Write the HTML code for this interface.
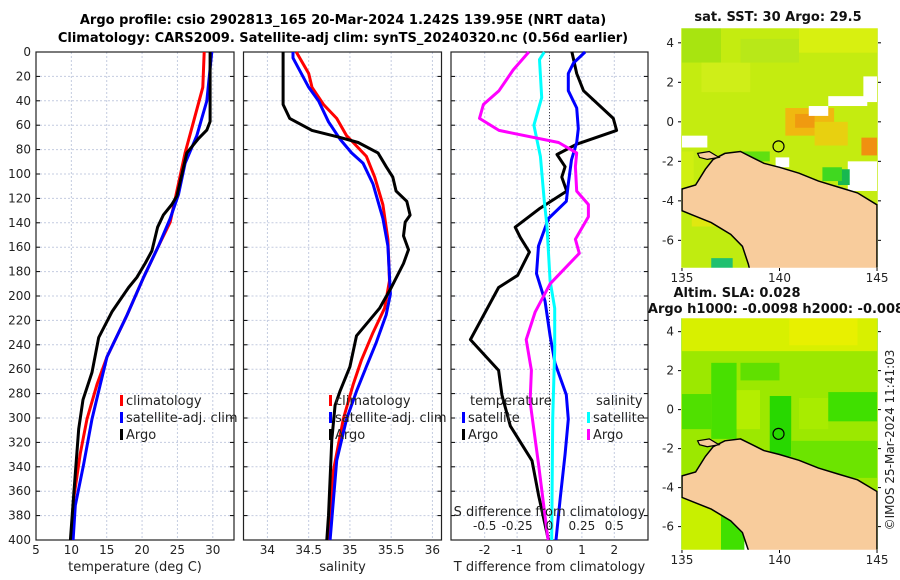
<!DOCTYPE html>
<html><head><meta charset="utf-8"><style>
html,body{margin:0;padding:0;background:#fff;}
svg{display:block;font-family:"DejaVu Sans","Liberation Sans",sans-serif;}
</style></head><body>
<svg id="fig" width="900" height="580" viewBox="0 0 900 580" xmlns="http://www.w3.org/2000/svg">
<text x="343" y="24" text-anchor="middle" font-size="13" font-weight="bold">Argo profile: csio 2902813_165 20-Mar-2024 1.242S 139.95E (NRT data)</text>
<text x="343" y="42" text-anchor="middle" font-size="13" font-weight="bold">Climatology: CARS2009. Satellite-adj clim: synTS_20240320.nc (0.56d earlier)</text>
<g id="charts"></g>
<g id="maps"></g>
<text transform="translate(894,440) rotate(-90)" text-anchor="middle" font-size="12" fill="#222">©IMOS 25-Mar-2024 11:41:03</text>
</svg>
<script>
// ---------- data ----------
const depthTicks = [0,20,40,60,80,100,120,140,160,180,200,220,240,260,280,300,320,340,360,380,400];
const tempTicks = [5,10,15,20,25,30];
const salTicks = [34,34.5,35,35.5,36];
const tdiffTicks = [-2,-1,0,1,2];
const sdiffTickLabels = ["-0.5","-0.25","0","0.25","0.5"];
const sdiffTicks = [-0.5,-0.25,0,0.25,0.5];

const tArgoDepth = [0,57,64,71,82.7,118,125,133.7,143.6,163,173,184.7,193,213,234,262.6,285,309,363,400];
const tArgo = [29.62,29.62,29.15,27.98,26.33,24.92,24.2,23.0,22.19,21.39,20.45,19.27,18.1,15.74,13.86,12.92,11.65,11.04,10.33,9.86];
const tClimDepth = [0,28.9,57.2,82.7,113.9,139.4,159,184.7,215.9,249.9,272.5,300.8,329,366,400];
const tClim = [28.78,28.59,27.27,26.09,24.92,23.98,22.33,20.21,17.86,15.04,13.62,12.21,11.27,10.33,9.95];
const tSatDepth = [0,40.2,68.6,91.2,116.7,136.5,159,184.7,215.9,249.9,272.5,300.8,337.7,371.7,400];
const tSat = [29.86,29.15,27.74,26.09,25.15,23.98,22.33,20.21,17.86,15.04,14.09,12.92,11.74,10.56,10.24];

const sArgoDepth = [0,43,54.4,64.3,70,74.2,82.7,94,102.5,114,122.4,133.7,139.4,150.7,162,173.4,193.2,210,232.6,258,278,289.5,317.8,380,400];
const sArgo = [34.19,34.19,34.27,34.54,34.88,35.1,35.34,35.44,35.52,35.56,35.69,35.73,35.67,35.65,35.71,35.65,35.5,35.36,35.08,35.0,34.88,34.82,34.78,34.74,34.72];
const sClimDepth = [0,17.6,28.9,43,54.4,68.6,74.2,85.6,102.5,125.2,153.5,187.5,210,230,252.4,272.5,300.8,343.3,400];
const sClim = [34.35,34.5,34.54,34.68,34.84,34.96,35.04,35.2,35.3,35.4,35.46,35.48,35.42,35.28,35.14,35.04,34.92,34.8,34.74];
const sSatDepth = [0,4.8,28.9,40.2,57.2,71.4,82.7,91.2,108.2,136.5,159,198.3,215.3,238,257.9,278,300.8,334.8,400];
const sSat = [34.31,34.31,34.5,34.62,34.74,34.88,35.02,35.16,35.28,35.4,35.46,35.49,35.44,35.32,35.2,35.08,34.96,34.84,34.76];

const dtArgoDepth = [0,17.6,31.7,54.4,64.3,75.6,84,94,102.5,114,128,143.6,152,164,183,193,235.7,261,281,306.5,335,363,397,400];
const dtArgo = [0.69,0.84,1.05,1.97,2.07,0.84,0.23,0.48,0.38,0.53,-0.29,-1.06,-0.9,-0.62,-0.98,-1.57,-2.44,-1.57,-1.47,-1.21,-0.54,-0.34,-0.06,-0.03];
const dtSatDepth = [0,9,17.6,31.7,45.9,62.9,74.2,88.4,108,122.4,136.5,159,181.6,204,232.6,255,281,301,329.5,366,400];
const dtSat = [1.1,0.74,0.58,0.58,0.84,0.89,0.84,0.68,0.58,0.52,-0.03,-0.34,-0.4,-0.14,0.02,0.17,0.52,0.58,0.48,0.33,0.2];
const dsArgoDepth = [0,14.7,31.7,43,54.4,64.3,74.2,82.7,94,114,125,135,153.5,165,190,213,235.7,261,286.6,337.7,397,400];
const dsArgo = [-0.16,-0.28,-0.39,-0.51,-0.54,-0.39,0.07,0.21,0.2,0.21,0.3,0.3,0.2,0.23,0.005,-0.11,-0.18,-0.14,-0.15,-0.085,-0.015,-0.01];
const dsSatDepth = [0,6.2,37.4,60,85.6,122.4,142,187.5,210,244,301,400];
const dsSat = [-0.04,-0.077,-0.06,-0.12,-0.07,-0.04,-0.02,0.005,0.04,0.04,0.025,0.017];

// ---------- drawing ----------
const NS = "http://www.w3.org/2000/svg";
const charts = document.getElementById('charts');
function mk(tag, attrs, parent){
  const e = document.createElementNS(NS, tag);
  for (const k in attrs) e.setAttribute(k, attrs[k]);
  (parent||charts).appendChild(e);
  return e;
}
const TOP = 52, BOT = 540, DMAX = 400;
function yD(d){ return TOP + d*(BOT-TOP)/DMAX; }
function scale(x0,x1,v0,v1){ return v => x0 + (v-v0)*(x1-x0)/(v1-v0); }

const panels = [
  {name:'temperature-panel', x0:36, x1:234, sc:scale(36,234,5,33.0), ticks:tempTicks, label:'temperature (deg C)', yLabels:true},
  {name:'salinity-panel', x0:243.5, x1:441.5, sc:scale(243.5,441.5,33.71,36.11), ticks:salTicks, label:'salinity'},
  {name:'difference-panel', x0:451, x1:648, sc:scale(451,648,-3.04,3.04), ticks:tdiffTicks, label:'T difference from climatology'}
];

panels.forEach(p => {
  const g = mk('g', {});
  
  
  depthTicks.forEach(d => {
    const y = yD(d);
    if (d>0 && d<400) {
      const gl = mk('line', {x1:p.x0, x2:p.x1, y1:y, y2:y, stroke:'#c4cce0', 'stroke-width':1, 'stroke-dasharray':'2,2'}, g);
      
      
    }
    const tl = mk('line', {x1:p.x0, x2:p.x0+4, y1:y, y2:y, stroke:'#000', 'stroke-width':1}, g);
    
    
    const tr = mk('line', {x1:p.x1-4, x2:p.x1, y1:y, y2:y, stroke:'#000', 'stroke-width':1}, g);
    
    
    if (p.yLabels) {
      const t = mk('text', {x:p.x0-5, y:y+4, 'text-anchor':'end', 'font-size':12, fill:'#222'}, g);
      t.textContent = d;
      
      
    }
  });
  p.ticks.forEach(v => {
    const x = p.sc(v);
    const gl = mk('line', {x1:x, x2:x, y1:TOP, y2:BOT, stroke:'#c4cce0', 'stroke-width':1, 'stroke-dasharray':'2,2'}, g);
    
    
    const t = mk('text', {x:x, y:BOT+14, 'text-anchor':'middle', 'font-size':12, fill:'#222'}, g);
    t.textContent = v;
    
    
  });
  const lab = mk('text', {x:(p.x0+p.x1)/2, y:BOT+31, 'text-anchor':'middle', 'font-size':13, fill:'#222'}, g);
  lab.textContent = p.label;
  
  
  const fr = mk('rect', {x:p.x0, y:TOP, width:p.x1-p.x0, height:BOT-TOP, fill:'none', stroke:'#222', 'stroke-width':1.2}, g);
  
  
  p.g = g;
});

function series(p, depths, vals, color, name, xf){
  const pts = depths.map((d,i) => (xf ? xf(vals[i]) : p.sc(vals[i])).toFixed(1) + ',' + yD(d).toFixed(1)).join(' ');
  const pl = mk('polyline', {points:pts, fill:'none', stroke:color, 'stroke-width':3, 'stroke-linejoin':'round'}, p.g);
  
  
}
const P1 = panels[0], P2 = panels[1], P3 = panels[2];
series(P1, tClimDepth, tClim, '#ff0000', 'temp-climatology-line');
series(P1, tSatDepth, tSat, '#0000ff', 'temp-satellite-line');
series(P1, tArgoDepth, tArgo, '#000000', 'temp-argo-line');
series(P2, sClimDepth, sClim, '#ff0000', 'sal-climatology-line');
series(P2, sSatDepth, sSat, '#0000ff', 'sal-satellite-line');
series(P2, sArgoDepth, sArgo, '#000000', 'sal-argo-line');

const zl = mk('line', {x1:P3.sc(0), x2:P3.sc(0), y1:TOP, y2:BOT, stroke:'#444', 'stroke-width':1, 'stroke-dasharray':'1,2'}, P3.g);


const sx = v => P3.sc(v*4);
series(P3, dtArgoDepth, dtArgo, '#000000', 'tdiff-argo-line');
series(P3, dtSatDepth, dtSat, '#0000ff', 'tdiff-satellite-line');
series(P3, dsSatDepth, dsSat, '#00ffff', 'sdiff-satellite-line', sx);
series(P3, dsArgoDepth, dsArgo, '#ff00ff', 'sdiff-argo-line', sx);

const st = mk('text', {x:P3.sc(0), y:516, 'text-anchor':'middle', 'font-size':13, fill:'#222'}, P3.g);
st.textContent = 'S difference from climatology';


sdiffTicks.forEach((v,i) => {
  const t = mk('text', {x:sx(v), y:530, 'text-anchor':'middle', 'font-size':12, fill:'#222'}, P3.g);
  t.textContent = sdiffTickLabels[i];
  
  
});

function legend(g, x, y, color, text){
  if (color) {
    const r = mk('rect', {x:x, y:y-9, width:3, height:11, fill:color}, g);
    
    
  }
  const t = mk('text', {x:x+6, y:y+1, 'font-size':13, fill:'#222'}, g);
  t.textContent = text;
  
  
}
legend(P1.g, 120, 404, '#ff0000', 'climatology');
legend(P1.g, 120, 421, '#0000ff', 'satellite-adj. clim');
legend(P1.g, 120, 438, '#000000', 'Argo');
legend(P2.g, 329, 404, '#ff0000', 'climatology');
legend(P2.g, 329, 421, '#0000ff', 'satellite-adj. clim');
legend(P2.g, 329, 438, '#000000', 'Argo');
legend(P3.g, 464, 404, null, 'temperature');
legend(P3.g, 462, 421, '#0000ff', 'satellite');
legend(P3.g, 462, 438, '#000000', 'Argo');
legend(P3.g, 590, 404, null, 'salinity');
legend(P3.g, 587, 421, '#00ffff', 'satellite');
legend(P3.g, 587, 438, '#ff00ff', 'Argo');

// ---------- maps ----------
const maps = document.getElementById('maps');
const lonTicks = [135,140,145];
const latTicks = [4,2,0,-2,-4,-6];
const floatLon = 139.95, floatLat = -1.242;
const landPoly = [[135,-3.4],[135.7,-3.2],[136.2,-2.4],[136.6,-1.9],[137.2,-1.6],[138,-1.5],[138.6,-1.8],[139.2,-2.1],[140,-2.3],[141,-2.6],[142,-3.0],[143,-3.3],[144,-3.6],[145,-4.2],[145,-8],[138.6,-8],[138.4,-7.2],[138.1,-6.3],[137.5,-5.7],[136.5,-5.1],[135.5,-4.7],[135,-4.5]];
const islandPoly = [[135.8,-1.6],[136.4,-1.5],[136.9,-1.8],[136.3,-1.9],[135.9,-1.8]];

function drawMap(cfg){
  const g = document.createElementNS(NS,'g');
  maps.appendChild(g);
  
  
  const X = scale(cfg.x0, cfg.x1, 134.95, 145.05);
  const Y = scale(cfg.y0, cfg.y1, cfg.latTop, cfg.latBot);
  const clipId = cfg.name + '-clip';
  const cp = mk('clipPath', {id:clipId}, g);
  mk('rect', {x:cfg.x0, y:cfg.y0, width:cfg.x1-cfg.x0, height:cfg.y1-cfg.y0}, cp);
  const inner = mk('g', {'clip-path':'url(#'+clipId+')'}, g);
  mk('rect', {x:cfg.x0, y:cfg.y0, width:cfg.x1-cfg.x0, height:cfg.y1-cfg.y0, fill:cfg.base}, inner);
  cfg.patches.forEach(pt => {
    const r = mk('rect', {x:X(pt[0]), y:Y(pt[3]), width:X(pt[1])-X(pt[0]), height:Y(pt[2])-Y(pt[3]), fill:pt[4]}, inner);
    
    
  });
  const lp = mk('polygon', {points:landPoly.map(p => X(p[0]).toFixed(1)+','+Y(p[1]).toFixed(1)).join(' '), fill:'#f8cc9c', stroke:'#000', 'stroke-width':1.5}, inner);
  
  
  const ip = mk('polygon', {points:islandPoly.map(p => X(p[0]).toFixed(1)+','+Y(p[1]).toFixed(1)).join(' '), fill:'#f8cc9c', stroke:'#000', 'stroke-width':1.2}, inner);
  
  
  const c = mk('circle', {cx:X(floatLon), cy:Y(floatLat), r:5.5, fill:'none', stroke:'#000', 'stroke-width':1.2}, g);
  
  
  const fr = mk('rect', {x:cfg.x0, y:cfg.y0, width:cfg.x1-cfg.x0, height:cfg.y1-cfg.y0, fill:'none', stroke:'#fff', 'stroke-width':0.5}, g);
  
  
  lonTicks.forEach(v => {
    const t = mk('text', {x:X(v), y:cfg.y1+14, 'text-anchor':'middle', 'font-size':12, fill:'#222'}, g);
    t.textContent = v;
    
    
    mk('line', {x1:X(v), x2:X(v), y1:cfg.y1, y2:cfg.y1+3, stroke:'#000'}, g);
  });
  latTicks.forEach(v => {
    const t = mk('text', {x:cfg.x0-7, y:Y(v)+4, 'text-anchor':'end', 'font-size':12, fill:'#222'}, g);
    t.textContent = v;
    
    
    mk('line', {x1:cfg.x0-3, x2:cfg.x0, y1:Y(v), y2:Y(v), stroke:'#000'}, g);
    mk('line', {x1:cfg.x1, x2:cfg.x1+3, y1:Y(v), y2:Y(v), stroke:'#000'}, g);
  });
  cfg.titles.forEach(tt => {
    const t = mk('text', {x:tt[0], y:tt[1], 'text-anchor':tt[3]||'middle', 'font-size':13, 'font-weight':'bold', fill:'#111'}, g);
    t.textContent = tt[2];
    
    
  });
}

drawMap({name:'sst-map', x0:681, x1:878, y0:28, y1:268, latTop:4.75, latBot:-7.4, base:'#c4ec10',
  titles:[[778,21,'sat. SST: 30 Argo: 29.5']],
  patches:[
    [135,137,3,4.8,'#a8e410'],[136,138.5,1.5,3,'#cfee18'],[138,141,3,4.2,'#b8e818'],[141,145,3.5,4.8,'#d8f010'],
    [140.3,142.8,-0.7,0.7,'#f0b810'],[140.8,141.8,-0.3,0.4,'#f09a10'],[141.8,143.5,-1.2,0,'#e8d010'],
    [142.5,144.5,0.8,1.3,'#ffffff'],[144.3,145,1,2.3,'#ffffff'],[141.5,142.5,0.3,0.8,'#ffffff'],
    [144.2,145,-1.7,-0.8,'#f09010'],[143.5,145,-3.5,-2,'#ffffff'],[143,143.6,-3.2,-2.4,'#18b850'],
    [142.2,143.2,-3,-2.3,'#40d820'],[139.8,140.5,-2.3,-1.8,'#ffffff'],[138,139.5,-2,-1.5,'#60e010'],
    [135,136.3,-1.3,-0.7,'#ffffff'],[135,135.6,-3.4,-1.5,'#d0f010'],
    [135,139,-7.4,-4.4,'#c0ec10'],[135.5,137.5,-5.3,-4.8,'#e0e810'],[136.5,137.6,-7.4,-6.9,'#20c070']
  ]});

drawMap({name:'sla-map', x0:681, x1:878, y0:318, y1:550, latTop:4.7, latBot:-7.2, base:'#9ce800',
  titles:[[737,297,'Altim. SLA: 0.028'],[776,313,'Argo h1000: -0.0098 h2000: -0.008']],
  patches:[
    [135,145,3,4.7,'#d8f000'],[140.5,144,3.3,4.7,'#e8f000'],[135,136.5,-1,0.8,'#50e000'],
    [136.5,137.8,-1.5,2.4,'#48e000'],[137.8,139,-1,1,'#b4ee00'],[139.5,140.6,-2.4,0.7,'#28d800'],
    [141,142.5,-1,0.6,'#a8ec00'],[142.5,145,-0.6,0.9,'#40e000'],[138,140,1.5,2.4,'#60e000'],
    [140.6,145,-3.5,-1.6,'#6ce400'],[135,138,-7.2,-4.5,'#c8f000'],[137,138.2,-7.2,-5,'#40e000'],[138.2,138.6,-7.2,-6,'#ffffff']
  ]});
</script>
</body></html>
